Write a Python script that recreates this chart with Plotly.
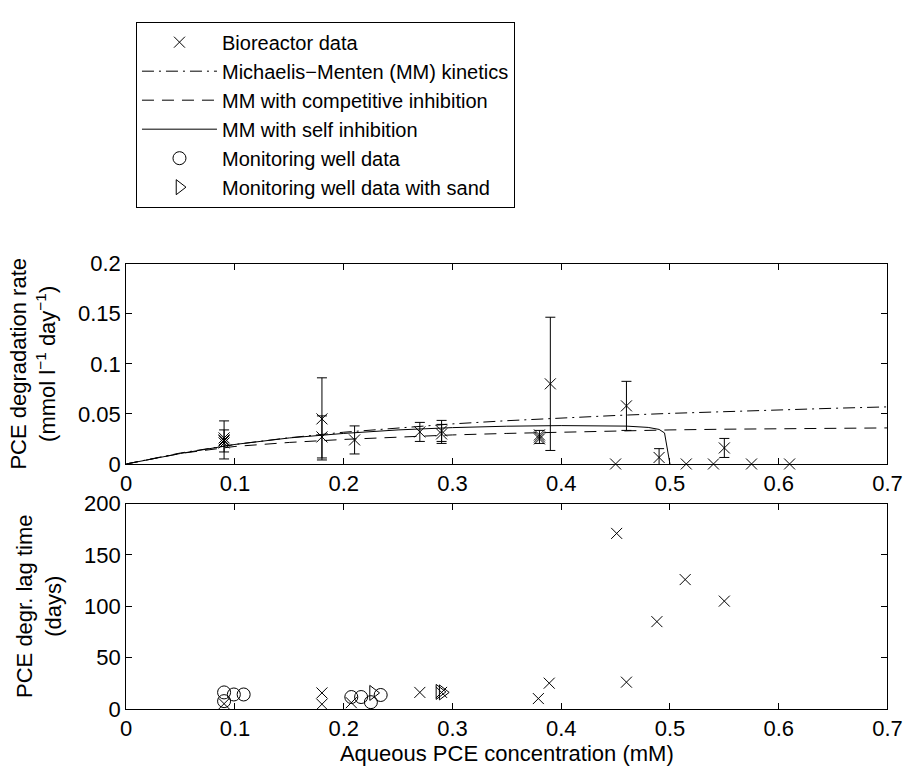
import plotly.graph_objects as go

# ---- bioreactor degradation rates (mmol l^-1 day^-1) with error bars ----
rate_err_x = [0.09, 0.09, 0.18, 0.18, 0.21, 0.27, 0.29, 0.29, 0.38, 0.39, 0.46, 0.49, 0.55]
rate_err_y = [0.024, 0.023, 0.045, 0.027, 0.024, 0.032, 0.033, 0.030, 0.027, 0.080, 0.058, 0.0065, 0.016]
rate_err = [0.019, 0.011, 0.041, 0.021, 0.014, 0.0095, 0.0105, 0.0095, 0.0065, 0.0665, 0.0245, 0.0088, 0.0095]

# bioreactor rates without error bars
rate_x = [0.09, 0.09, 0.38, 0.38, 0.45, 0.515, 0.54, 0.575, 0.61]
rate_y = [0.026, 0.021, 0.025, 0.029, 0.0, 0.0, 0.0, 0.0, 0.0]

# ---- kinetic model curves ----
model_x = [0, 0.05, 0.1, 0.15, 0.2, 0.25, 0.3, 0.35, 0.4, 0.45, 0.5, 0.55, 0.6, 0.65, 0.7]
mm_rate = [0, 0.011, 0.0195, 0.0262, 0.0317, 0.0362, 0.040, 0.0432, 0.046, 0.0484, 0.0505,
           0.0524, 0.0541, 0.0556, 0.057]
comp_rate = [0, 0.0105, 0.0175, 0.0215, 0.0245, 0.027, 0.029, 0.0305, 0.0318, 0.033, 0.034,
             0.0347, 0.0352, 0.0357, 0.036]
self_x = [0, 0.05, 0.1, 0.15, 0.2, 0.25, 0.3, 0.35, 0.4, 0.44, 0.46, 0.48, 0.49, 0.495, 0.5]
self_rate = [0, 0.0105, 0.0195, 0.026, 0.0305, 0.034, 0.0363, 0.0377, 0.0383, 0.0382, 0.0378,
             0.0365, 0.0345, 0.031, 0]

# ---- degradation lag times (days) ----
lag_bio_x = [0.09, 0.18, 0.18, 0.207, 0.27, 0.29, 0.379, 0.389, 0.451, 0.46, 0.488, 0.514, 0.55]
lag_bio = [5, 15.5, 4.5, 6, 16, 16, 10, 25, 171, 26, 85, 126, 105]
lag_well_x = [0.09, 0.09, 0.099, 0.108, 0.207, 0.216, 0.225, 0.234]
lag_well = [16, 7.5, 14, 14, 11.5, 11.5, 6.5, 13.5]
lag_sand_x = [0.227, 0.288, 0.291]
lag_sand = [15.5, 16.5, 16]

FONT = "Liberation Sans, Arial, Helvetica, sans-serif"
FS = 22
LEGEND_FS = 20
BLACK = "black"

x_mark = dict(symbol="x-thin-open", size=11, color=BLACK, line=dict(color=BLACK, width=1))
o_mark = dict(symbol="circle-open", size=13, color=BLACK, line=dict(color=BLACK, width=1))
tri_mark = dict(symbol="triangle-right-open", size=13, color=BLACK, line=dict(color=BLACK, width=1))

fig = go.Figure()

# legend entries (order of the legend box)
fig.add_trace(go.Scatter(x=rate_x, y=rate_y, mode="markers", marker=x_mark,
                         name="Bioreactor data", legendgroup="bio", cliponaxis=False,
                         xaxis="x", yaxis="y"))
fig.add_trace(go.Scatter(x=model_x, y=mm_rate, mode="lines",
                         line=dict(color=BLACK, width=1, dash="12px,5px,2px,5px"),
                         name="Michaelis\u2212Menten (MM) kinetics", xaxis="x", yaxis="y"))
fig.add_trace(go.Scatter(x=model_x, y=comp_rate, mode="lines",
                         line=dict(color=BLACK, width=1, dash="12px,8px"),
                         name="MM with competitive inhibition", xaxis="x", yaxis="y"))
fig.add_trace(go.Scatter(x=self_x, y=self_rate, mode="lines",
                         line=dict(color=BLACK, width=1),
                         name="MM with self inhibition", xaxis="x", yaxis="y"))
fig.add_trace(go.Scatter(x=lag_well_x, y=lag_well, mode="markers", marker=o_mark,
                         name="Monitoring well data", cliponaxis=False,
                         xaxis="x2", yaxis="y2"))
fig.add_trace(go.Scatter(x=lag_sand_x, y=lag_sand, mode="markers", marker=tri_mark,
                         name="Monitoring well data with sand", cliponaxis=False,
                         xaxis="x2", yaxis="y2"))

# bioreactor rates with symmetric error bars
fig.add_trace(go.Scatter(x=rate_err_x, y=rate_err_y, mode="markers", marker=x_mark,
                         error_y=dict(type="data", array=rate_err, symmetric=True,
                                      color=BLACK, thickness=1, width=5),
                         showlegend=False, legendgroup="bio", cliponaxis=False,
                         xaxis="x", yaxis="y"))

# bioreactor lag times
fig.add_trace(go.Scatter(x=lag_bio_x, y=lag_bio, mode="markers", marker=x_mark,
                         showlegend=False, legendgroup="bio", cliponaxis=False,
                         xaxis="x2", yaxis="y2"))

W, H = 922, 777
left, right = 123, 902
top_panel = (260, 467)
bot_panel = (508, 720)


def xdom():
    return [left / W, right / W]


def ydom(p):
    return [1 - p[1] / H, 1 - p[0] / H]


axis_common = dict(showline=True, linecolor=BLACK, linewidth=1, mirror="ticks",
                   ticks="inside", ticklen=6, tickwidth=1, tickcolor=BLACK,
                   showgrid=False, zeroline=False,
                   tickfont=dict(family=FONT, size=FS, color=BLACK))

fig.update_layout(
    width=W, height=H,
    margin=dict(l=0, r=0, t=0, b=0),
    paper_bgcolor="white", plot_bgcolor="white",
    font=dict(family=FONT, size=FS, color=BLACK),
    xaxis=dict(domain=xdom(), anchor="y", range=[0, 0.7], dtick=0.1, tick0=0, **axis_common),
    yaxis=dict(domain=ydom(top_panel), anchor="x", range=[0, 0.2], dtick=0.05, tick0=0,
               title=dict(text="PCE degradation rate<br>(mmol l<sup>\u22121</sup> day<sup>\u22121</sup>)",
                          font=dict(family=FONT, size=FS), standoff=16),
               **axis_common),
    xaxis2=dict(domain=xdom(), anchor="y2", range=[0, 0.7], dtick=0.1, tick0=0,
                title=dict(text="Aqueous PCE concentration (mM)",
                           font=dict(family=FONT, size=FS), standoff=0),
                **axis_common),
    yaxis2=dict(domain=ydom(bot_panel), anchor="x2", range=[0, 200], dtick=50, tick0=0,
                title=dict(text="PCE degr. lag time<br>(days)",
                           font=dict(family=FONT, size=FS), standoff=16),
                **axis_common),
    legend=dict(x=133 / W, y=1 - 10 / H, xanchor="left", yanchor="top",
                bordercolor=BLACK, borderwidth=1, bgcolor="white",
                font=dict(family=FONT, size=LEGEND_FS, color=BLACK),
                itemwidth=75, tracegroupgap=0, traceorder="normal"),
    showlegend=True,
)

fig.write_html("out.html")
